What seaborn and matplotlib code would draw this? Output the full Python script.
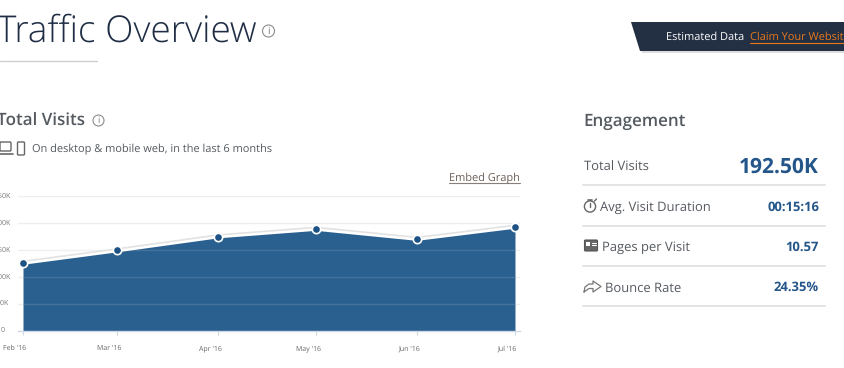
import matplotlib
matplotlib.use('Agg')
import matplotlib.pyplot as plt
import matplotlib.dates as mdates
from matplotlib.patches import Circle, Polygon, Rectangle, FancyBboxPatch
from matplotlib.transforms import ScaledTranslation
import seaborn as sns
import pandas as pd

# chart data
months = ['2016-02-01', '2016-03-01', '2016-04-01', '2016-05-01', '2016-06-01', '2016-07-01']
month_labels = ["Feb '16", "Mar '16", "Apr '16", "May '16", "Jun '16", "Jul '16"]
visits = [125500, 148700, 174700, 188600, 170000, 192500]
y_ticks = [0, 50000, 100000, 150000, 200000, 250000]
y_labels = ['0', '50K', '100K', '150K', '200K', '250K']

# engagement table
engagement_names = ['Total Visits', 'Avg. Visit Duration', 'Pages per Visit', 'Bounce Rate']
engagement_values = ['192.50K', '00:15:16', '10.57', '24.35%']

W, H = 845, 368
NAVY = '#24568a'
AREA = '#2a6090'
TEXT = '#555a60'

sns.set_theme(style='white')
plt.rcParams['font.family'] = ['Open Sans', 'DejaVu Sans']
plt.rcParams['text.hinting'] = 'no_hinting'
plt.rcParams['text.hinting_factor'] = 1

fig = plt.figure(figsize=(W / 100, H / 100), dpi=100)

# page layer in pixel coordinates
page = fig.add_axes([0, 0, 1, 1])
page.set_xlim(0, W)
page.set_ylim(H, 0)
page.axis('off')


def px(size):
    return size * 0.72


def info_icon(x, y, r=5.5):
    page.add_patch(Circle((x, y), r, fc='white', ec='#8a8d90', lw=0.8))
    page.text(x, y, 'i', fontsize=px(r * 1.6), color='#777777', ha='center', va='center')


# header
page.text(-3.5, 42, 'Traffic Overview', fontsize=px(36.9), color='#1f2d45', weight='light',
          ha='left', va='baseline')
info_icon(268.5, 31, 6)
page.plot([0, 97], [61, 61], color='#cfcfcf', lw=1)

# banner
page.add_patch(Polygon([(633, 26), (845, 26), (845, 53), (642, 53)], fc='#dddddd', ec='none'))
page.add_patch(Polygon([(631, 22), (845, 22), (845, 51), (640, 51)], fc='#232f42', ec='none'))
page.text(666, 37, 'Estimated Data', fontsize=px(10.9), color='white', va='center')
page.text(750, 37, 'Claim Your Website', fontsize=px(10.9), color='#e8791d', va='center')
page.plot([750, 845], [43, 43], color='#e8791d', lw=0.8)

# left heading
page.text(-3, 126, 'Total Visits', fontsize=px(17.3), color=TEXT, weight='semibold', va='baseline')
info_icon(98.5, 120.5, 5.5)
page.add_patch(FancyBboxPatch((0, 142), 11, 9, boxstyle='round,pad=0,rounding_size=1',
                              fc='white', ec='#666666', lw=1))
page.plot([-1, 13], [153.5, 153.5], color='#666666', lw=1.2)
page.add_patch(FancyBboxPatch((17.5, 142), 7, 13, boxstyle='round,pad=0,rounding_size=1',
                              fc='white', ec='#666666', lw=1))
page.text(32, 148.5, 'On desktop & mobile web, in the last 6 months', fontsize=px(10.85),
          color=TEXT, va='center')
page.text(449, 177.5, 'Embed Graph', fontsize=px(11.1), color='#6b5f58', va='center')
page.plot([449, 520], [183, 183], color='#8a7f78', lw=0.8)

# engagement panel
page.text(583, 126, 'Engagement', fontsize=px(17.3), color=TEXT, weight='semibold', va='baseline')
row_y = [166, 206.5, 246.5, 287]
label_x = [584, 600.5, 602, 605]
for i in range(4):
    page.text(label_x[i], row_y[i] + 1, engagement_names[i], fontsize=px(12.65), color=TEXT, va='center')
    big = i == 0
    page.text(819, row_y[i] + (1 if big else 0.5), engagement_values[i], fontsize=px(21 if big else 13.3),
              color=NAVY, weight='bold', ha='right', va='center')
    page.plot([583, 825], [row_y[i] + 19, row_y[i] + 19], color='#e4e4e4', lw=1.4)

# stopwatch
page.add_patch(Circle((590, 206.5), 5.6, fc='white', ec='#666666', lw=1))
page.plot([590, 590], [206.5, 202.5], color='#666666', lw=1)
page.plot([588, 592], [199.5, 199.5], color='#666666', lw=1.2)
page.plot([594.5, 596.5], [201, 199], color='#666666', lw=1)
# pages
page.add_patch(FancyBboxPatch((584.5, 240), 13, 11, boxstyle='round,pad=0,rounding_size=1',
                              fc='#666666', ec='#555555', lw=0.8))
page.add_patch(Rectangle((586, 241.5), 4.5, 4, fc='white', ec='none'))
page.plot([592, 596], [242.5, 242.5], color='white', lw=0.8)
page.plot([592, 596], [244.5, 244.5], color='white', lw=0.8)
# share arrow
page.plot([584, 585, 589, 593, 593, 601, 593, 593, 589, 584],
          [292, 287, 284, 284, 281, 286.5, 292, 288.5, 288.5, 292], color='#777777', lw=0.9)

# chart
x_dates = pd.to_datetime(months)
df = pd.DataFrame({'date': x_dates, 'visits': visits})
x_nums = mdates.date2num(x_dates)
px_per_day = (515 - 23) / (x_nums[-1] - x_nums[0])

ax_l, ax_r, ax_t, ax_b = 18, 520, 196, 330.5
ax = fig.add_axes([ax_l / W, 1 - ax_b / H, (ax_r - ax_l) / W, (ax_b - ax_t) / H])
ax.patch.set_alpha(0)
ax.set_xlim(x_nums[0] - 5 / px_per_day, x_nums[-1] + 5 / px_per_day)
ax.set_ylim(0, 250000)

for t in y_ticks[1:]:
    ax.axhline(t, color='#eeeeee', lw=1, zorder=0)
ax.fill_between(df['date'], df['visits'], 0, color=AREA, lw=0, zorder=2)
ax.hlines(y_ticks[1:4], x_nums[0], x_nums[-1], color='white', alpha=0.12, lw=1, zorder=3)

# soft band above the line, then markers through seaborn
ax.plot(df['date'], df['visits'], color='white', lw=2.6, zorder=3, solid_capstyle='butt')
ax.plot(df['date'], [v + 3000 for v in visits], color='#e2e2e2', lw=1.2, zorder=3)
sns.lineplot(data=df, x='date', y='visits', ax=ax, color=AREA, lw=0, marker='o', markersize=6,
             markerfacecolor='#1d5285', markeredgecolor='white', markeredgewidth=1.2,
             zorder=5, clip_on=False, legend=False)
ax.set_xlabel('')
ax.set_ylabel('')

for s in ['top', 'right', 'left']:
    ax.spines[s].set_visible(False)
ax.spines['bottom'].set_color('#cfd8e3')
ax.spines['bottom'].set_linewidth(1)

ax.set_xticks(df['date'])
ax.set_xticklabels(month_labels, fontsize=px(7.3), color='#666666')
ax.tick_params(axis='x', length=3, width=0.8, color='#cfd8e3', pad=7.5, bottom=True)
shift = ScaledTranslation(-8 / 100, 0, fig.dpi_scale_trans)
for lab in ax.get_xticklabels():
    lab.set_transform(lab.get_transform() + shift)

# y labels sit centred on one column, partly past the left edge of the page
ax.set_yticks(y_ticks)
ax.set_yticklabels([])
ax.tick_params(axis='y', length=0)
label_col = (3 - ax_l) / (ax_r - ax_l)
for t, lab in zip(y_ticks, y_labels):
    ax.text(label_col, t, lab, transform=ax.get_yaxis_transform(), fontsize=px(7.2),
            color='#777777', ha='center', va='center')

fig.savefig('out.png', dpi=100)
